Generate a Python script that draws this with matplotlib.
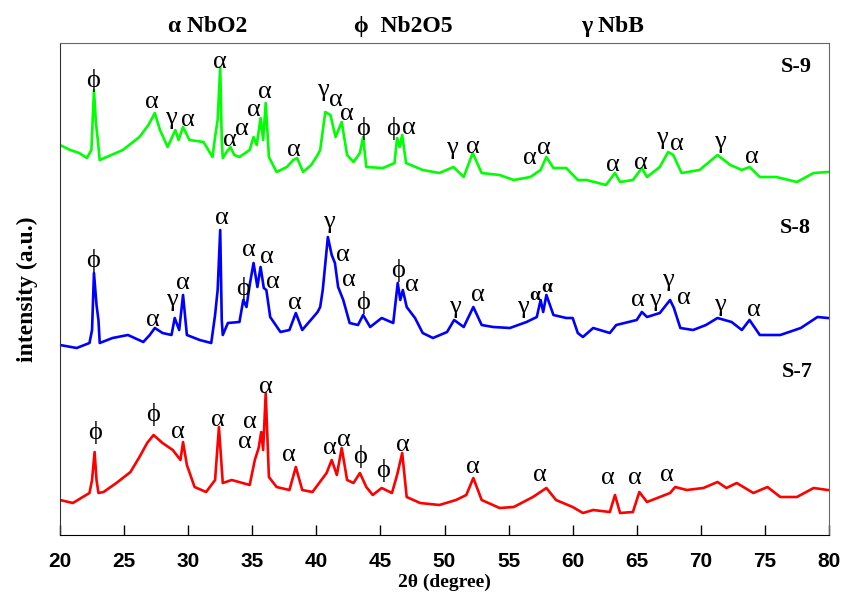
import matplotlib
matplotlib.use('Agg')
import matplotlib.pyplot as plt

# XRD patterns, stacked (intensity in a.u.)
two_theta_s9 = [20.0, 20.8, 21.5, 22.1, 22.45, 22.65, 22.8, 22.95, 23.1, 24.0, 24.9, 25.6, 26.2, 26.9,
                27.4, 27.8, 28.4, 29.0, 29.25, 29.6, 30.1, 31.2, 31.9, 32.1, 32.3, 32.5, 32.62, 32.7,
                33.0, 33.3, 33.6, 34.0, 34.8, 35.1, 35.35, 35.65, 35.85, 36.05, 36.3, 36.9, 37.7, 38.2,
                38.5, 38.97, 39.6, 40.1, 40.3, 40.7, 41.1, 41.5, 41.98, 42.4, 42.9, 43.4, 43.65, 43.9,
                45.2, 46.1, 46.3, 46.5, 46.7, 47.0, 48.3, 49.6, 50.7, 51.5, 52.2, 52.9, 54.3, 55.4,
                56.7, 57.5, 57.95, 58.5, 59.5, 60.4, 61.1, 62.6, 63.3, 63.7, 64.7, 65.4, 65.8, 66.8,
                67.45, 67.85, 68.5, 69.9, 71.3, 72.3, 73.2, 73.8, 74.6, 75.9, 77.5, 78.8, 79.9]
int_s9 = [390, 385, 382, 377, 385, 445, 413, 395, 375, 380, 385, 392, 398, 410,
          422, 405, 388, 405, 395, 408, 395, 393, 378, 398, 415, 468, 395, 377,
          383, 388, 380, 378, 385, 398, 390, 417, 395, 432, 378, 363, 368, 375,
          377, 363, 370, 380, 385, 423, 420, 398, 413, 380, 373, 382, 398, 368,
          367, 372, 397, 388, 400, 372, 365, 362, 368, 358, 382, 362, 360, 355,
          358, 365, 378, 367, 367, 355, 355, 350, 362, 353, 355, 367, 358, 368,
          383, 380, 362, 365, 380, 370, 365, 368, 358, 358, 353, 362, 363]

two_theta_s8 = [20.0, 21.3, 22.3, 22.5, 22.65, 22.85, 23.0, 23.1, 24.1, 25.3, 26.5, 27.0, 27.4, 28.0,
                28.7, 28.95, 29.3, 29.6, 29.9, 30.9, 31.8, 32.1, 32.3, 32.5, 32.62, 32.7, 33.1, 34.0,
                34.3, 34.55, 34.8, 35.1, 35.4, 35.65, 35.9, 36.1, 36.4, 37.2, 37.9, 38.4, 38.9, 40.1,
                40.3, 40.5, 40.9, 41.2, 41.45, 41.7, 42.1, 42.6, 43.25, 43.65, 44.2, 45.1, 46.0, 46.35,
                46.55, 46.75, 47.05, 47.7, 48.3, 49.1, 50.2, 50.75, 51.5, 52.25, 52.9, 53.8, 55.1, 56.4,
                57.2, 57.5, 57.7, 57.95, 58.5, 59.5, 60.0, 60.4, 60.8, 61.6, 62.9, 63.4, 65.0, 65.4,
                65.8, 66.8, 67.6, 67.9, 68.4, 69.4, 70.4, 71.3, 72.4, 73.2, 73.8, 74.6, 76.2, 77.8,
                79.1, 79.9]
int_s8 = [190, 187, 192, 205, 262, 230, 215, 192, 197, 200, 193, 200, 207, 202,
          200, 217, 205, 240, 200, 195, 192, 220, 245, 305, 215, 200, 212, 213,
          235, 228, 250, 272, 248, 268, 247, 245, 218, 203, 205, 222, 205, 223,
          228, 245, 298, 280, 272, 248, 235, 212, 210, 220, 208, 217, 212, 252,
          235, 245, 228, 217, 202, 197, 203, 215, 208, 228, 210, 208, 207, 213,
          218, 235, 223, 240, 220, 217, 217, 202, 198, 207, 202, 210, 215, 223,
          218, 222, 235, 227, 207, 205, 210, 217, 213, 205, 215, 200, 200, 207,
          218, 217]

two_theta_s7 = [20.0, 21.0, 22.3, 22.5, 22.7, 22.85, 23.0, 23.4, 24.4, 25.5, 26.2, 26.8, 27.3, 28.0,
                28.8, 29.4, 29.6, 29.9, 30.5, 31.4, 32.1, 32.4, 32.7, 33.4, 34.8, 35.2, 35.5, 35.7,
                35.85, 36.05, 36.3, 36.9, 37.9, 38.4, 38.9, 39.7, 40.8, 41.2, 41.6, 41.98, 42.4, 42.9,
                43.4, 43.9, 44.4, 45.1, 45.9, 46.3, 46.7, 47.05, 48.1, 49.6, 50.9, 51.7, 52.25, 52.9,
                54.3, 55.4, 56.9, 57.95, 58.7, 60.0, 60.8, 61.6, 62.9, 63.3, 63.7, 64.7, 65.2, 65.8,
                66.8, 67.6, 68.0, 68.9, 70.2, 71.3, 72.0, 72.8, 74.1, 75.2, 76.2, 77.5, 78.8, 79.9]
int_s7 = [35, 32, 42, 55, 83, 55, 42, 43, 52, 63, 78, 92, 100, 92,
          85, 75, 93, 70, 48, 43, 55, 108, 52, 55, 50, 75, 87, 103,
          85, 142, 58, 48, 45, 68, 45, 43, 62, 75, 60, 87, 55, 52,
          62, 48, 40, 47, 42, 60, 82, 38, 32, 30, 35, 40, 57, 35,
          27, 28, 38, 47, 35, 28, 22, 25, 23, 40, 22, 23, 43, 33,
          38, 42, 48, 45, 47, 53, 47, 52, 42, 48, 38, 38, 47, 45]

# peak labels: (phase symbol, 2theta, label height)
peaks_s9 = [('ϕ', 22.6, 455), ('α', 27.15, 433), ('γ', 28.66, 417), ('α', 29.96, 415),
            ('α', 32.48, 473), ('α', 33.25, 395), ('α', 34.2, 406), ('α', 35.1, 425),
            ('α', 36.0, 443), ('α', 38.26, 385), ('γ', 40.5, 445), ('α', 41.5, 435),
            ('α', 42.4, 421), ('ϕ', 43.66, 407), ('ϕ', 46.0, 407), ('α', 47.2, 407),
            ('γ', 50.56, 387), ('α', 52.25, 388), ('α', 56.67, 377), ('α', 57.76, 387),
            ('α', 63.17, 370), ('α', 65.3, 372), ('γ', 66.94, 397), ('α', 68.16, 391),
            ('γ', 71.49, 393), ('α', 73.96, 378)]
peaks_s8 = [('ϕ', 22.6, 275), ('α', 27.28, 215), ('γ', 28.71, 235), ('α', 29.62, 252),
            ('α', 32.61, 317), ('ϕ', 34.3, 247), ('α', 34.74, 285), ('α', 36.12, 278),
            ('α', 36.64, 253), ('α', 38.33, 232), ('γ', 41.01, 313), ('α', 42.1, 280),
            ('α', 42.5, 255), ('ϕ', 43.66, 233), ('ϕ', 46.34, 265), ('α', 47.43, 250),
            ('γ', 50.82, 228), ('α', 52.64, 240), ('γ', 56.1, 228),
            ('α', 65.12, 235), ('γ', 66.43, 235), ('γ', 67.42, 255), ('α', 68.69, 237),
            ('γ', 71.49, 230), ('α', 74.1, 225)]
peaks_s8_bold = [('α', 57.06, 240), ('α', 57.97, 248)]
peaks_s7 = [('ϕ', 22.73, 103), ('ϕ', 27.23, 120), ('α', 29.23, 103), ('α', 32.35, 115),
            ('α', 34.82, 113), ('α', 34.43, 93), ('α', 36.07, 148), ('α', 37.89, 80),
            ('α', 41.07, 87), ('α', 42.18, 95), ('ϕ', 43.41, 78), ('ϕ', 45.23, 65),
            ('α', 46.73, 90), ('α', 52.19, 68), ('α', 57.45, 60), ('α', 62.78, 57),
            ('α', 64.86, 57), ('α', 67.38, 60)]

samples = ['S-9', 'S-8', 'S-7']
sample_pos = [(77.48, 468), (77.4, 307), (77.5, 163)]
phases = ['α NbO2', 'ϕ  Nb2O5', 'γ NbB']
phase_x = [0.247, 0.479, 0.727]

serif = ['Liberation Serif', 'DejaVu Serif']

fig = plt.figure(figsize=(8.42, 5.94), dpi=100)
ax = fig.add_axes([60/842, 1-535/594, 769/842, 492/594])

ax.plot(two_theta_s9, int_s9, color='#00ff00', lw=1.9)
ax.plot(two_theta_s8, int_s8, color='#0000ff', lw=1.9)
ax.plot(two_theta_s7, int_s7, color='#ff0000', lw=1.9)

for peaks in [peaks_s9, peaks_s8, peaks_s7]:
    for sym, x, y in peaks:
        ax.text(x, y, sym, ha='center', va='center', fontsize=19, family=serif, color='black')
for sym, x, y in peaks_s8_bold:
    ax.text(x, y, sym, ha='center', va='center', fontsize=14, family=serif,
            fontweight='bold', color='black')

for name, (x, y) in zip(samples, sample_pos):
    ax.text(x, y, name, ha='center', va='center', fontsize=16, family=serif, fontweight='bold')

for name, x in zip(phases, phase_x):
    fig.text(x, 0.955, name, ha='center', va='center', fontsize=17, family=serif, fontweight='bold')

ax.set_xlim(20, 80)
ax.set_ylim(0, 492)
ax.set_xticks(range(20, 81, 5))
ax.set_yticks([])
ax.tick_params(axis='x', direction='in', length=7, width=1, top=False, pad=12)
for lab in ax.get_xticklabels():
    lab.set_fontfamily('Liberation Sans')
    lab.set_fontweight('bold')
    lab.set_fontsize(15)
for side in ['top', 'right']:
    ax.spines[side].set_color('#666666')
ax.spines['left'].set_color('#333333')

ax.set_xlabel('2θ (degree)', family=serif, fontweight='bold', fontsize=14, labelpad=2)
ax.set_ylabel('intensity (a.u.)', family=serif, fontweight='bold', fontsize=17, labelpad=16)

fig.savefig('out.png', dpi=100)
